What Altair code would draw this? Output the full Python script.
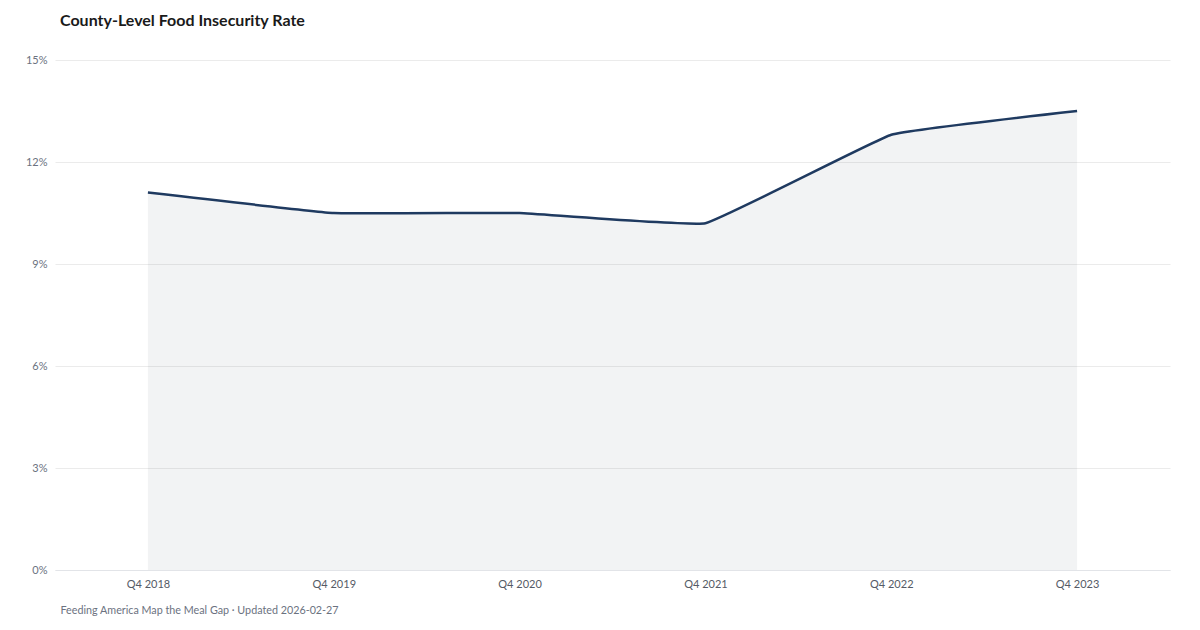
import altair as alt
import pandas as pd

quarters = ["Q4 2018", "Q4 2019", "Q4 2020", "Q4 2021", "Q4 2022", "Q4 2023"]
rates = [0.111, 0.105, 0.105, 0.102, 0.128, 0.135]

df = pd.DataFrame({"quarter": quarters, "rate": rates})

FONT = "Lato"

x = alt.X(
    "quarter:N",
    sort=quarters,
    scale=alt.Scale(type="point", padding=0.5),
    axis=alt.Axis(
        title="Feeding America Map the Meal Gap · Updated 2026-02-27",
        titleX=5,
        titleY=40,
        titleAlign="left",
        titleBaseline="middle",
        titleFont=FONT,
        titleFontSize=10.75,
        titleFontWeight="normal",
        titleColor="#6b7280",
        labelAngle=0,
        labelFont=FONT,
        labelFontSize=11,
        labelColor="#555b66",
        labelPadding=8,
        ticks=False,
        domain=True,
        domainColor="#e2e4e8",
        grid=False,
    ),
)
y = alt.Y(
    "rate:Q",
    scale=alt.Scale(domain=[0, 0.15], nice=False),
    axis=alt.Axis(
        title=None,
        format=".0%",
        values=[0, 0.03, 0.06, 0.09, 0.12, 0.15],
        labelFont=FONT,
        labelFontSize=11,
        labelColor="#6b7280",
        labelPadding=8,
        ticks=False,
        domain=False,
        gridColor="#ebebeb",
        gridWidth=1,
    ),
)

area = alt.Chart(df).mark_area(
    interpolate="cardinal", tension=0.75, color="#4b5563", opacity=0.07
).encode(x=x, y=y)

line = alt.Chart(df).mark_line(
    interpolate="cardinal", tension=0.75, color="#1f3a60", strokeWidth=2.5
).encode(x=x, y=y)

chart = (
    alt.layer(area, line)
    .properties(
        width=1115,
        height=510,
        title=alt.TitleParams(
            "County-Level Food Insecurity Rate",
            anchor="start",
            frame="group",
            dx=5,
            offset=25,
            font=FONT,
            fontSize=16,
            fontWeight="bold",
            color="#1a1a1a",
        ),
        autosize=alt.AutoSizeParams(type="none"),
        padding={"left": 47, "top": 52, "right": 22, "bottom": 52},
    )
    .configure(background="white")
    .configure_view(strokeWidth=0, stroke="transparent")
)

chart.save("out.html", embed_options={"renderer": "svg", "actions": False})
